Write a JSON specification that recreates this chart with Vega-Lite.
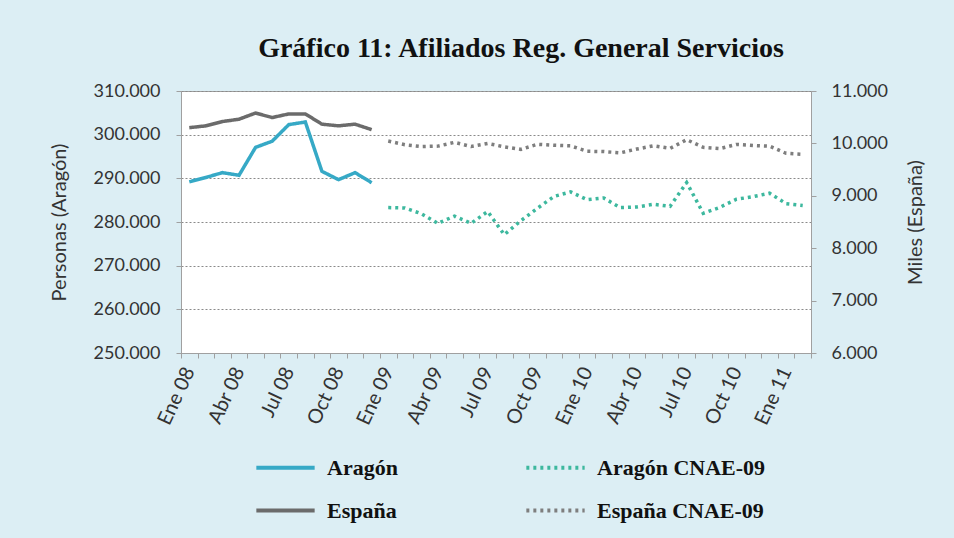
{
  "$schema": "https://vega.github.io/schema/vega-lite/v6.json",
  "width": 630,
  "height": 262,
  "autosize": {"type": "none"},
  "padding": {"left": 181, "top": 91, "right": 143, "bottom": 185},
  "background": "#DCEEF4",
  "title": {
    "text": "Gráfico 11: Afiliados Reg. General Servicios",
    "font": "Liberation Serif",
    "fontSize": 28,
    "fontWeight": "bold",
    "color": "#111111",
    "anchor": "middle",
    "dx": 25,
    "offset": 19
  },
  "config": {
    "locale": {"number": {"decimal": ",", "thousands": ".", "grouping": [3], "currency": ["", " €"]}},
    "view": {"stroke": "#a0a0a0", "strokeWidth": 1, "fill": "#ffffff"},
    "axis": {
      "labelFont": "Lato",
      "labelFontSize": 18,
      "labelColor": "#333333",
      "titleFont": "Lato",
      "titleFontSize": 20,
      "titleFontWeight": "normal",
      "titleColor": "#333333",
      "domainColor": "#a0a0a0",
      "tickColor": "#a0a0a0",
      "tickSize": 5
    },
    "legend": {
      "labelFont": "Liberation Serif",
      "labelFontSize": 22,
      "labelFontWeight": "bold",
      "labelColor": "#111111",
      "labelLimit": 400
    }
  },
  "data": {
    "values": [
      {"mes": "Ene 08", "serie": "Aragón", "valor": 289200},
      {"mes": "Feb 08", "serie": "Aragón", "valor": 290200},
      {"mes": "Mar 08", "serie": "Aragón", "valor": 291300},
      {"mes": "Abr 08", "serie": "Aragón", "valor": 290700},
      {"mes": "May 08", "serie": "Aragón", "valor": 297100},
      {"mes": "Jun 08", "serie": "Aragón", "valor": 298500},
      {"mes": "Jul 08", "serie": "Aragón", "valor": 302300},
      {"mes": "Ago 08", "serie": "Aragón", "valor": 302900},
      {"mes": "Sep 08", "serie": "Aragón", "valor": 291600},
      {"mes": "Oct 08", "serie": "Aragón", "valor": 289700},
      {"mes": "Nov 08", "serie": "Aragón", "valor": 291300},
      {"mes": "Dic 08", "serie": "Aragón", "valor": 289000},
      {"mes": "Ene 09", "serie": "Aragón CNAE-09", "valor": 283300},
      {"mes": "Feb 09", "serie": "Aragón CNAE-09", "valor": 283200},
      {"mes": "Mar 09", "serie": "Aragón CNAE-09", "valor": 281900},
      {"mes": "Abr 09", "serie": "Aragón CNAE-09", "valor": 279700},
      {"mes": "May 09", "serie": "Aragón CNAE-09", "valor": 281350},
      {"mes": "Jun 09", "serie": "Aragón CNAE-09", "valor": 279700},
      {"mes": "Jul 09", "serie": "Aragón CNAE-09", "valor": 282400},
      {"mes": "Ago 09", "serie": "Aragón CNAE-09", "valor": 277100},
      {"mes": "Sep 09", "serie": "Aragón CNAE-09", "valor": 280300},
      {"mes": "Oct 09", "serie": "Aragón CNAE-09", "valor": 283150},
      {"mes": "Nov 09", "serie": "Aragón CNAE-09", "valor": 285850},
      {"mes": "Dic 09", "serie": "Aragón CNAE-09", "valor": 286900},
      {"mes": "Ene 10", "serie": "Aragón CNAE-09", "valor": 285100},
      {"mes": "Feb 10", "serie": "Aragón CNAE-09", "valor": 285500},
      {"mes": "Mar 10", "serie": "Aragón CNAE-09", "valor": 283300},
      {"mes": "Abr 10", "serie": "Aragón CNAE-09", "valor": 283450},
      {"mes": "May 10", "serie": "Aragón CNAE-09", "valor": 284050},
      {"mes": "Jun 10", "serie": "Aragón CNAE-09", "valor": 283600},
      {"mes": "Jul 10", "serie": "Aragón CNAE-09", "valor": 289050},
      {"mes": "Ago 10", "serie": "Aragón CNAE-09", "valor": 282000},
      {"mes": "Sep 10", "serie": "Aragón CNAE-09", "valor": 283350},
      {"mes": "Oct 10", "serie": "Aragón CNAE-09", "valor": 285200},
      {"mes": "Nov 10", "serie": "Aragón CNAE-09", "valor": 285800},
      {"mes": "Dic 10", "serie": "Aragón CNAE-09", "valor": 286600},
      {"mes": "Ene 11", "serie": "Aragón CNAE-09", "valor": 284200},
      {"mes": "Feb 11", "serie": "Aragón CNAE-09", "valor": 283800},
      {"mes": "Ene 08", "serie": "España", "valor": 10300},
      {"mes": "Feb 08", "serie": "España", "valor": 10335},
      {"mes": "Mar 08", "serie": "España", "valor": 10417},
      {"mes": "Abr 08", "serie": "España", "valor": 10462},
      {"mes": "May 08", "serie": "España", "valor": 10580},
      {"mes": "Jun 08", "serie": "España", "valor": 10493},
      {"mes": "Jul 08", "serie": "España", "valor": 10563},
      {"mes": "Ago 08", "serie": "España", "valor": 10563},
      {"mes": "Sep 08", "serie": "España", "valor": 10367},
      {"mes": "Oct 08", "serie": "España", "valor": 10335},
      {"mes": "Nov 08", "serie": "España", "valor": 10367},
      {"mes": "Dic 08", "serie": "España", "valor": 10262},
      {"mes": "Ene 09", "serie": "España CNAE-09", "valor": 10045},
      {"mes": "Feb 09", "serie": "España CNAE-09", "valor": 9975},
      {"mes": "Mar 09", "serie": "España CNAE-09", "valor": 9940},
      {"mes": "Abr 09", "serie": "España CNAE-09", "valor": 9948},
      {"mes": "May 09", "serie": "España CNAE-09", "valor": 10020},
      {"mes": "Jun 09", "serie": "España CNAE-09", "valor": 9940},
      {"mes": "Jul 09", "serie": "España CNAE-09", "valor": 9998},
      {"mes": "Ago 09", "serie": "España CNAE-09", "valor": 9935},
      {"mes": "Sep 09", "serie": "España CNAE-09", "valor": 9886},
      {"mes": "Oct 09", "serie": "España CNAE-09", "valor": 9983},
      {"mes": "Nov 09", "serie": "España CNAE-09", "valor": 9964},
      {"mes": "Dic 09", "serie": "España CNAE-09", "valor": 9953},
      {"mes": "Ene 10", "serie": "España CNAE-09", "valor": 9850},
      {"mes": "Feb 10", "serie": "España CNAE-09", "valor": 9844},
      {"mes": "Mar 10", "serie": "España CNAE-09", "valor": 9821},
      {"mes": "Abr 10", "serie": "España CNAE-09", "valor": 9892},
      {"mes": "May 10", "serie": "España CNAE-09", "valor": 9954},
      {"mes": "Jun 10", "serie": "España CNAE-09", "valor": 9905},
      {"mes": "Jul 10", "serie": "España CNAE-09", "valor": 10071},
      {"mes": "Ago 10", "serie": "España CNAE-09", "valor": 9925},
      {"mes": "Sep 10", "serie": "España CNAE-09", "valor": 9900},
      {"mes": "Oct 10", "serie": "España CNAE-09", "valor": 9980},
      {"mes": "Nov 10", "serie": "España CNAE-09", "valor": 9960},
      {"mes": "Dic 10", "serie": "España CNAE-09", "valor": 9948},
      {"mes": "Ene 11", "serie": "España CNAE-09", "valor": 9810},
      {"mes": "Feb 11", "serie": "España CNAE-09", "valor": 9792}
    ]
  },
  "encoding": {
    "x": {
      "field": "mes",
      "type": "ordinal",
      "bandPosition": 0.5,
      "scale": {
        "type": "band",
        "paddingInner": 0,
        "paddingOuter": 0,
        "domain": ["Ene 08","Feb 08","Mar 08","Abr 08","May 08","Jun 08","Jul 08","Ago 08","Sep 08","Oct 08","Nov 08","Dic 08",
                   "Ene 09","Feb 09","Mar 09","Abr 09","May 09","Jun 09","Jul 09","Ago 09","Sep 09","Oct 09","Nov 09","Dic 09",
                   "Ene 10","Feb 10","Mar 10","Abr 10","May 10","Jun 10","Jul 10","Ago 10","Sep 10","Oct 10","Nov 10","Dic 10",
                   "Ene 11","Feb 11"]
      },
      "axis": {
        "title": null,
        "labelAngle": -65,
        "labelFontSize": 20,
        "labelOverlap": false,
        "labelExpr": "test(/^(Ene|Abr|Jul|Oct)/, datum.label) ? datum.label : ''",
        "tickBand": "extent",
        "labelPadding": 10,
        "grid": false
      }
    },
    "color": {
      "field": "serie",
      "type": "nominal",
      "scale": {
        "domain": ["Aragón", "España", "Aragón CNAE-09", "España CNAE-09"],
        "range": ["#36A9C6", "#6B6B6B", "#3DB89E", "#7E7E7E"]
      },
      "legend": {
        "title": null,
        "orient": "none",
        "legendX": 73,
        "legendY": 345,
        "columns": 2,
        "columnPadding": 120,
        "rowPadding": 0,
        "symbolType": "stroke",
        "symbolSize": 3400,
        "symbolStrokeWidth": 4,
        "labelOffset": 10
      }
    },
    "strokeDash": {
      "field": "serie",
      "type": "nominal",
      "scale": {
        "domain": ["Aragón", "España", "Aragón CNAE-09", "España CNAE-09"],
        "range": [[1, 0], [1, 0], [3, 4], [3, 4]]
      },
      "legend": {
        "title": null,
        "orient": "none",
        "legendX": 73,
        "legendY": 345,
        "columns": 2,
        "columnPadding": 120,
        "rowPadding": 0,
        "symbolType": "stroke",
        "symbolSize": 3400,
        "symbolStrokeWidth": 4,
        "labelOffset": 10
      }
    }
  },
  "layer": [
    {
      "transform": [{"filter": "indexof(['Aragón', 'Aragón CNAE-09'], datum.serie) >= 0"}],
      "mark": {"type": "line", "strokeWidth": 3.5},
      "encoding": {
        "y": {
          "field": "valor",
          "type": "quantitative",
          "scale": {"domain": [250000, 310000], "zero": false, "nice": false},
          "axis": {
            "title": "Personas (Aragón)",
            "orient": "left",
            "values": [250000, 260000, 270000, 280000, 290000, 300000, 310000],
            "format": ",d",
            "grid": true,
            "gridColor": "#8a8a8a",
            "gridDash": [2, 2],
            "gridWidth": 1,
            "labelPadding": 16,
            "titlePadding": 24
          }
        }
      }
    },
    {
      "transform": [{"filter": "indexof(['España', 'España CNAE-09'], datum.serie) >= 0"}],
      "mark": {"type": "line", "strokeWidth": 3.5},
      "encoding": {
        "y": {
          "field": "valor",
          "type": "quantitative",
          "scale": {"domain": [6000, 11000], "zero": false, "nice": false},
          "axis": {
            "title": "Miles (España)",
            "orient": "right",
            "titleAngle": -90,
            "titleBaseline": "top",
            "values": [6000, 7000, 8000, 9000, 10000, 11000],
            "format": ",d",
            "grid": false,
            "labelPadding": 15,
            "titlePadding": 18
          }
        }
      }
    }
  ],
  "resolve": {"scale": {"y": "independent"}}
}
